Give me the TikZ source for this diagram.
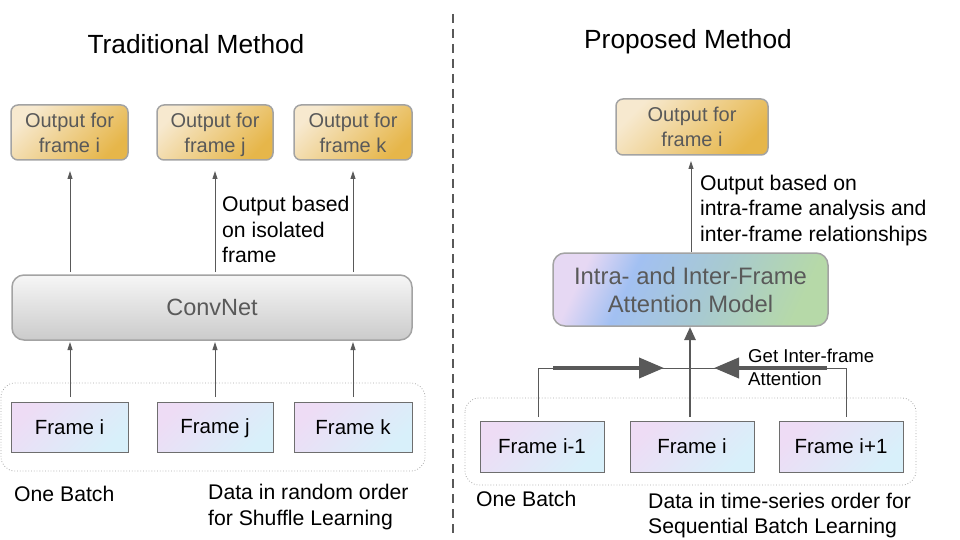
\documentclass[tikz,border=0pt]{standalone}
\usepackage{fontspec}
\setmainfont{Liberation Sans}
\usetikzlibrary{arrows.meta,calc}
\definecolor{txtgray}{HTML}{595959}
\definecolor{bordgray}{HTML}{A3A3A3}
\definecolor{frameb}{HTML}{6E6E6E}
\definecolor{goldL}{HTML}{F7E9CF}
\definecolor{goldD}{HTML}{E6B64A}
\definecolor{cnL}{HTML}{F6F6F6}
\definecolor{cnD}{HTML}{CBCBCB}
\definecolor{lavL}{HTML}{EEDCF5}
\definecolor{bluL}{HTML}{D8F0FA}
\definecolor{attA}{HTML}{E6D8F3}
\definecolor{attB}{HTML}{A2C0F2}
\definecolor{attT}{HTML}{A8CAD0}
\definecolor{attC}{HTML}{B6D9A8}
\definecolor{arrg}{HTML}{595959}
\pgfdeclarehorizontalshading{attshade}{100bp}{color(0bp)=(attA); color(25bp)=(attA); color(36bp)=(attB); color(55bp)=(attT); color(75bp)=(attC); color(100bp)=(attC)}
\begin{document}
\begin{tikzpicture}[x=1pt,y=-1pt,
  btxt/.style={font=\fontsize{21.2}{25.5}\selectfont},
  outbox/.style={draw=bordgray, line width=1.5pt, rounded corners=7pt,
    top color=goldL, bottom color=goldD, shading angle=45,
    minimum height=55pt, inner sep=0pt, align=center, text=txtgray,
    font=\fontsize{20}{25}\selectfont},
  convbox/.style={draw=bordgray, line width=1.5pt, rounded corners=12pt,
    top color=cnL, bottom color=cnD, minimum width=400pt, minimum height=65pt,
    inner sep=0pt, text=txtgray, font=\fontsize{23.5}{28}\selectfont},
  framebox/.style={draw=frameb, line width=0.8pt,
    top color=lavL, bottom color=bluL, shading angle=45,
    minimum height=51pt, inner sep=0pt,
    font=\fontsize{20.5}{25}\selectfont},
  attbox/.style={draw=bordgray, line width=1.5pt, rounded corners=12pt,
    shading=attshade, shading angle=-25,
    minimum width=275pt, minimum height=73pt, inner sep=0pt, align=center,
    text=txtgray, font=\fontsize{23.8}{28}\selectfont},
  batch/.style={draw=gray!70, dotted, line width=0.8pt, rounded corners=14pt},
  thin/.style={draw=arrg, line width=0.9pt, -{Triangle[length=8pt,width=5pt]}},
  plain/.style={draw=arrg, line width=0.9pt},
  thick/.style={draw=arrg, line width=4pt, -{Triangle[length=25pt,width=20pt]}},
  mid/.style={draw=arrg, line width=2.5pt, -{Triangle[length=13pt,width=11pt]}},
  lbl/.style={btxt, align=left, anchor=west, inner sep=0pt}
]
\useasboundingbox (0,0) rectangle (960,540);

% divider
\draw[draw=txtgray, line width=1.3pt, dash pattern=on 9pt off 6pt] (453,14) -- (453,536);

% titles
\node[font=\fontsize{26.3}{30}\selectfont] (t1) at (196,44) {Traditional Method};
\node[font=\fontsize{26.3}{30}\selectfont] (t2) at (688,42) {Proposed Method};

% ---------- Left ----------
\draw[batch] (1,383) rectangle (425,471);
\node[outbox, minimum width=117pt] (o1) at (69.5,132.5) {Output for\\frame i};
\node[outbox, minimum width=116pt] (o2) at (215,132.5) {Output for\\frame \smash{j}};
\node[outbox, minimum width=118pt] (o3) at (353,132.5) {Output for\\frame k};
\node[convbox] (cn) at (212,307.5) {ConvNet};
\node[framebox, minimum width=117pt, minimum height=50pt] (f1) at (69.5,427) {Frame i};
\node[framebox, minimum width=116pt, minimum height=50pt] (f2) at (215,427) {Frame \smash{j}};
\node[framebox, minimum width=118pt, minimum height=50pt] (f3) at (353,427) {Frame k};

\foreach \a/\b in {1/70,2/215,3/353}{
  \coordinate (ct\a) at (\b,272);
  \coordinate (ot\a) at (\b,171);
  \coordinate (fb\a) at (\b,397);
  \coordinate (cb\a) at (\b,342);
  \draw[thin] (ct\a) -- (ot\a);
  \draw[thin] (fb\a) -- (cb\a);
}

\node[lbl] (l1) at (222,229.5) {Output based\\on isolated\\frame};
\node[btxt, anchor=west, inner sep=0pt] (ob1) at (14,494) {One Batch};
\node[lbl] (d1) at (208,507) {Data in random order\\for Shuffle Learning};

% ---------- Right ----------
\draw[batch] (465,398) rectangle (916,485);
\node[outbox, minimum width=152pt, minimum height=56pt] (o4) at (692,127) {Output for\\frame i};
\node[attbox] (at) at (690.5,289.5) {Intra- and Inter-Frame\\Attention Model};
\node[framebox, minimum width=124pt] (g1) at (542,446.5) {Frame i-1};
\node[framebox, minimum width=124pt] (g2) at (692,446.5) {Frame i};
\node[framebox, minimum width=124pt] (g3) at (841,446.5) {Frame i+1};

\coordinate (atop) at (691,252);
\coordinate (otop) at (691,161);
\draw[thin] (atop) -- (otop);
\node[lbl] (l2) at (700,210.5) {Output based on\\intra-frame analysis and\\inter-frame relationships};

\coordinate (s1) at (538,417);
\coordinate (s3) at (846,417);
\coordinate (hl) at (690,368);
\draw[plain] (s1) -- (s1 |- hl) -- (s3 |- hl) -- (s3);
\coordinate (la) at (553,368);
\coordinate (lb) at (664,368);
\coordinate (ra) at (827,368);
\coordinate (rb) at (714,368);
\draw[thick] (la) -- (lb);
\draw[thick] (ra) -- (rb);
\coordinate (ms) at (690,417);
\coordinate (me) at (690,327);
\draw[mid] (ms) -- (me);
\node[align=left, anchor=west, inner sep=0pt, font=\fontsize{18.6}{23}\selectfont] (gi) at (748,367.5) {Get Inter-frame\\Attention};

\node[btxt, anchor=west, inner sep=0pt] (ob2) at (476,499) {One Batch};
\node[lbl] (d2) at (648,515.5) {Data in time-series order for\\Sequential Batch Learning};
\end{tikzpicture}
\end{document}
